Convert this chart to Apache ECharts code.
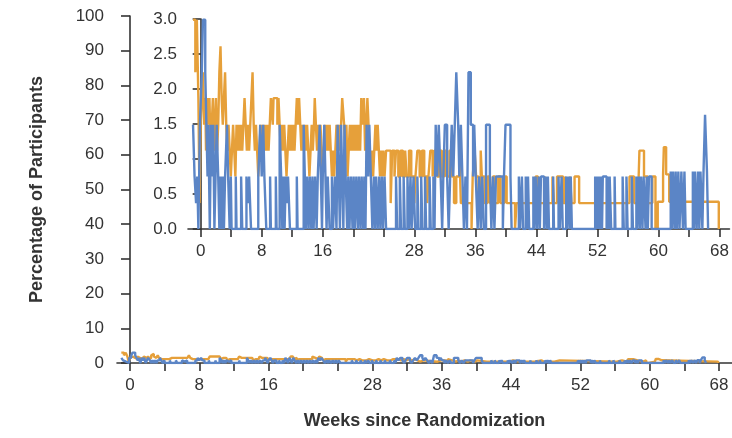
<!DOCTYPE html>
<html>
<head>
<meta charset="utf-8">
<script src="https://cdn.jsdelivr.net/npm/echarts@6/dist/echarts.min.js"></script>
<style>
  html, body { margin: 0; padding: 0; background: #fff; }
  #chart { width: 732px; height: 438px; }
</style>
</head>
<body>
<div id="chart"></div>
<script>
'use strict'

// tick marks every 4 weeks, labels only on some of them
var weekTicks = [0, 4, 8, 12, 16, 20, 24, 28, 32, 36, 40, 44, 48, 52, 56, 60, 64, 68]
var weekLabels = [0, 8, 16, 28, 36, 44, 52, 60, 68]

// [week, percentage] change points (step lines)
var orangeGroup = [
  [-1.0,2.99],[-0.7,2.24],[-0.5,2.99],[-0.3,1.87],[-0.15,0.37],
  [0.0,1.49],[0.15,1.87],[0.3,2.24],[0.45,1.49],[0.6,1.87],[0.7,1.12],[0.85,1.87],[1.0,1.49],[1.15,1.87],[1.3,1.12],
  [1.45,1.49],[1.6,1.87],[1.75,1.49],[1.9,1.12],[2.0,1.87],[2.15,1.12],[2.3,1.49],[2.45,2.24],[2.6,2.61],[2.75,1.87],
  [2.9,1.49],[3.05,1.87],[3.2,2.24],[3.35,1.49],[3.5,1.12],[3.65,1.49],[3.8,1.12],[3.95,0.75],[4.1,1.12],[4.25,1.49],
  [4.4,1.12],[4.55,0.75],[4.7,1.49],[4.85,1.12],[5.0,1.49],[5.15,1.12],[5.3,1.49],[5.45,1.12],[5.6,1.49],[5.75,1.87],
  [5.9,1.49],[6.05,1.12],[6.2,1.49],[6.35,1.12],[6.5,1.49],[6.65,1.87],[6.8,2.24],[6.95,1.49],[7.1,1.12],[7.25,1.49],
  [7.4,1.12],[7.55,0.75],[7.7,1.12],[7.85,1.49],[8.0,1.12],[8.15,1.49],[8.3,1.12],[8.45,1.49],[8.6,1.12],[8.75,1.49],
  [8.9,1.12],[9.05,1.49],[9.2,1.87],[9.45,1.49],[9.55,1.87],[10.05,1.49],[10.2,1.87],[10.35,1.49],[10.5,1.12],[10.65,1.49],
  [10.8,1.12],[10.95,1.49],[11.1,1.12],[11.25,0.75],[11.4,1.12],[11.55,1.49],[11.7,1.12],[11.85,1.49],[12.0,1.12],[12.15,1.49],
  [12.3,1.12],[12.45,1.49],[12.6,1.87],[12.75,1.49],[12.9,1.87],[13.05,1.49],[13.2,1.12],[13.35,1.49],[13.5,1.12],[13.65,1.49],
  [13.8,1.12],[13.95,1.49],[14.1,1.12],[14.25,0.75],[14.4,1.12],[14.55,1.49],[14.7,1.12],[14.85,1.49],[14.95,1.87],[15.1,1.49],
  [15.25,1.12],[15.4,1.49],[15.55,1.12],[15.7,1.49],[15.85,1.12],[16.0,0.75],[16.15,1.12],[16.3,1.49],[16.45,1.12],[16.6,1.49],
  [16.75,1.12],[16.9,1.49],[17.05,1.12],[17.2,0.75],[17.35,1.12],[17.5,0.75],[17.65,1.12],[17.8,1.49],[17.95,1.12],[18.1,1.49],
  [18.25,1.12],[18.4,1.49],[18.55,1.87],[18.8,1.49],[18.95,1.12],[19.1,1.49],[19.25,0.75],[19.4,1.12],[19.55,1.49],[19.7,1.12],
  [19.85,1.49],[20.0,1.12],[20.15,1.49],[20.3,1.12],[20.45,1.49],[20.6,1.12],[20.75,1.49],[20.9,1.12],[21.05,1.87],[21.25,1.49],
  [21.4,1.87],[21.55,1.12],[21.7,1.49],[21.85,1.87],[22.0,1.49],[22.15,1.12],[22.3,0.75],[22.45,1.12],[22.6,0.75],[22.75,1.12],
  [22.9,1.49],[23.05,1.12],[23.2,1.49],[23.35,1.12],[23.5,0.75],[23.65,1.12],[23.8,0.75],[23.95,1.12],[24.1,0.75],[24.3,1.12],
  [24.6,1.12],[24.9,0.37],[25.1,1.12],[25.4,0.75],[25.6,1.12],[25.9,0.75],[26.2,1.12],[26.5,0.75],
  [26.8,1.12],[27.0,0.75],[27.3,1.12],[27.6,0.75],[28.0,0.37],[28.15,0.75],[28.4,1.12],[28.7,0.75],[29.0,1.12],[29.3,0.75],
  [29.7,0.37],[29.85,0.75],[30.1,1.12],[30.4,0.75],[30.6,1.12],[31.0,0.75],[31.3,1.12],[31.6,0.75],[31.9,1.12],[32.2,0.75],
  [32.6,1.12],[32.9,0.75],[33.2,0.37],[33.5,0.75],[33.9,1.12],[34.1,0.37],[35.5,0],[35.65,0.75],[35.9,1.12],[36.1,0.75],
  [36.4,0.37],[36.7,1.12],[36.85,0.75],[37.2,0.37],[37.6,0.75],[37.9,0.37],[38.3,0.75],[38.6,0.37],[39.0,0.75],[39.3,0.37],
  [39.8,0.75],[40.1,0.37],[41.2,0],[41.4,0.37],[43.9,0.75],[44.2,0.37],[45.1,0.75],[45.3,0.37],[46.1,0.75],[46.3,0.37],
  [46.7,0.75],[47.5,0.37],[47.8,0.75],[48.0,0.37],[48.4,0.75],[48.6,0.37],[49.0,0.75],[49.6,0.37],[56.2,0.75],[56.8,0.37],
  [57.4,0.75],[57.5,1.12],[58.1,0.75],[58.6,0.37],[59.2,0.75],[59.6,0],[59.9,0.39],[60.6,0.78],[60.7,1.17],[61.0,0.78],
  [61.4,0.39],[67.9,0]
]

var blueGroup = [
  [-1.0,1.49],[-0.8,0.75],[-0.6,0.37],[-0.45,0.75],[-0.3,0],[-0.1,1.49],[0.15,2.24],[0.3,2.99],[0.6,2.24],[0.75,1.49],
  [0.9,0.75],[1.0,1.49],[1.2,0],[1.35,1.49],[1.5,0.75],[1.65,1.49],[1.8,0],[1.95,0.75],[2.1,1.49],[2.3,0.75],
  [2.45,0],[2.6,0.75],[2.75,0],[2.9,0.75],[3.05,0],[3.2,0.75],[3.45,1.49],[3.6,0.75],[3.8,0],[3.95,0.75],
  [4.05,0],[4.6,0.75],[4.7,0],[5.3,0.75],[5.45,0],[6.0,0.75],[6.2,0.37],[6.35,0.75],[6.6,0],[7.55,0.75],
  [7.8,1.49],[8.0,0.75],[8.2,1.49],[8.35,0.75],[8.6,0],[9.1,0.75],[9.2,0],[9.85,0.75],[9.95,0],[10.35,1.49],
  [10.55,0.75],[10.7,0],[10.85,0.75],[11.0,0],[11.15,0.75],[11.3,0.37],[11.45,0.75],[11.7,0],[12.6,0.75],[12.7,0],
  [13.5,1.49],[13.65,0.75],[13.8,0],[13.95,0.75],[14.15,0],[14.3,0.75],[14.5,0],[14.65,0.75],[14.8,0],[15.0,0.75],
  [15.2,0],[15.35,0.75],[15.6,1.49],[15.75,0.75],[15.9,0],[16.0,0.75],[16.2,1.49],[16.35,0.75],[16.5,0],[16.65,0.75],
  [16.9,0],[17.2,0.75],[17.35,0],[17.6,0.75],[17.8,0],[17.95,1.49],[18.1,0.75],[18.25,0],[18.4,1.49],[18.55,0.75],
  [18.7,0],[18.85,1.49],[19.0,0.75],[19.2,0],[19.35,0.75],[19.5,0],[19.7,0.75],[19.9,0],[20.05,0.75],[20.2,0],
  [20.4,0.75],[20.6,0],[20.75,0.75],[20.95,0],[21.1,0.75],[21.3,0],[21.45,0.75],[21.6,0],[21.75,1.49],[21.95,0.75],
  [22.1,1.49],[22.3,0.75],[22.5,0],[22.7,0.75],[22.85,0],[23.0,0.75],[23.2,0],[23.4,0.75],[23.55,0],[23.75,0.75],
  [23.9,0],[24.1,0.75],[24.3,0],[25.6,0.75],[25.75,0],[26.1,0.75],[26.25,0],[26.6,0.75],[26.75,0],[27.1,0.75],
  [27.3,0],[27.5,0.75],[27.65,0],[27.9,0.75],[28.1,0],[28.4,0.75],[28.55,0],[28.9,0.75],[29.05,0],[29.4,0.75],
  [29.55,0],[30.0,0.75],[30.15,0],[30.5,0.75],[30.65,0],[30.8,1.49],[31.0,0.75],[31.2,1.49],[31.45,0.75],[31.65,0],
  [31.8,0.75],[32.0,1.49],[32.3,0.75],[32.5,0],[32.7,0.75],[32.9,1.49],[33.1,0.75],[33.3,1.49],[33.5,2.24],[33.75,1.49],
  [33.9,0.75],[34.1,1.49],[34.3,0.75],[34.5,0],[34.7,0.75],[34.9,0],[35.1,2.24],[35.4,1.49],[35.7,0.75],[35.85,1.49],
  [36.05,0.75],[36.3,0],[36.5,0.75],[36.7,0],[36.9,0.75],[37.1,0],[37.4,1.49],[37.9,0.75],[38.1,0],[38.3,0.75],
  [38.5,0],[38.7,0.75],[39.6,0],[39.75,0.75],[39.95,1.49],[40.6,0.75],[40.75,0],[41.7,0.75],[41.85,0],[42.1,0.75],
  [42.25,0],[42.6,0.75],[42.75,0],[42.9,0.75],[43.05,0],[43.6,0.75],[43.75,0],[43.9,0.75],[44.1,0],[44.3,0.75],
  [44.45,0],[44.6,0.75],[45.0,0],[45.2,0.75],[45.35,0],[45.5,0.75],[45.65,0],[46.2,0.75],[46.3,0],[46.9,0.75],
  [47.05,0],[47.3,0.75],[47.45,0],[47.9,0.75],[48.05,0],[48.2,0.75],[48.4,0],[48.5,0.75],[48.65,0],[51.7,0.75],
  [51.85,0],[51.95,0.75],[52.1,0],[52.2,0.75],[52.35,0],[52.45,0.75],[52.6,0],[52.7,0.75],[53.2,0],[53.3,0.75],
  [53.5,0],[53.6,0.75],[53.8,0],[54.25,0.75],[54.35,0],[55.3,0.75],[55.45,0],[55.8,0.75],[55.95,0],[56.5,0.75],
  [56.65,0],[57.1,0.75],[57.2,0],[57.4,0.75],[57.55,0],[57.7,0.75],[57.9,0],[58.05,0.75],[58.3,0],[58.45,0.75],
  [58.6,0],[58.75,0.75],[59.1,0],[61.6,0.82],[61.75,0],[61.9,0.82],[62.1,0],[62.25,0.82],[62.4,0],[62.6,0.82],
  [62.75,0],[63.0,0.82],[63.2,0],[63.4,0.82],[63.55,0],[64.5,0.82],[64.65,0],[64.8,0.82],[65.0,0],[65.2,0.82],
  [65.35,0],[65.5,0.82],[65.75,0],[65.9,0.82],[66.1,1.63],[66.35,0.82],[66.5,0]
]

var ORANGE = '#e6a03a'
var BLUE = '#5b85c6'
var INK = '#333'
var FONT = 'Liberation Sans'

function xAxisFor(gridIndex, min, max) {
  return {
    type: 'value', gridIndex: gridIndex, min: min, max: max,
    splitLine: { show: false },
    axisLine: { lineStyle: { color: INK, width: 1.6 } },
    axisTick: { length: 8, customValues: weekTicks, lineStyle: { color: INK, width: 1.6 } },
    axisLabel: { customValues: weekLabels, margin: 14, color: INK, fontFamily: FONT, fontSize: 17 }
  }
}

function stepLine(name, data, color, idx) {
  return {
    name: name, type: 'line', step: 'end', data: data,
    xAxisIndex: idx, yAxisIndex: idx,
    showSymbol: false, silent: true,
    lineStyle: { color: color, width: 2.4 }
  }
}

var chart = echarts.init(document.getElementById('chart'), null, { renderer: 'canvas' })

chart.setOption({
  animation: false,
  textStyle: { fontFamily: FONT },
  grid: [
    { left: 117, right: 0, top: 16, bottom: 75 },   // full 0-100 scale
    { left: 188, right: 0, top: 19, bottom: 209 }   // zoomed inset 0-3
  ],
  xAxis: [
    Object.assign(xAxisFor(0, -1.5, 69.5), {
      name: 'Weeks since Randomization', nameLocation: 'middle', nameGap: 49,
      nameTextStyle: { color: INK, fontFamily: FONT, fontSize: 18, fontWeight: 'bold' }
    }),
    xAxisFor(1, -1.66, 69.3)
  ],
  yAxis: [
    {
      type: 'value', gridIndex: 0, min: 0, max: 100, interval: 10,
      splitLine: { show: false },
      axisLine: { show: true, lineStyle: { color: INK, width: 1.6 } },
      axisTick: { show: true, length: 9, lineStyle: { color: INK, width: 1.6 } },
      axisLabel: { margin: 13, color: INK, fontFamily: FONT, fontSize: 17 },
      name: 'Percentage of Participants', nameLocation: 'middle', nameGap: 71, nameRotate: 90,
      nameTextStyle: { color: INK, fontFamily: FONT, fontSize: 18, fontWeight: 'bold' }
    },
    {
      type: 'value', gridIndex: 1, min: 0, max: 3, interval: 0.5,
      splitLine: { show: false },
      axisLine: { show: true, lineStyle: { color: INK, width: 1.6 } },
      axisTick: { show: true, length: 8, lineStyle: { color: INK, width: 1.6 } },
      axisLabel: { margin: 11, color: INK, fontFamily: FONT, fontSize: 17,
        formatter: function (v) { return v.toFixed(1) } }
    }
  ],
  series: [
    stepLine('orange', orangeGroup, ORANGE, 0),
    stepLine('blue', blueGroup, BLUE, 0),
    stepLine('orange', orangeGroup, ORANGE, 1),
    stepLine('blue', blueGroup, BLUE, 1)
  ]
})
window.onresize = chart.resize
</script>
</body>
</html>
